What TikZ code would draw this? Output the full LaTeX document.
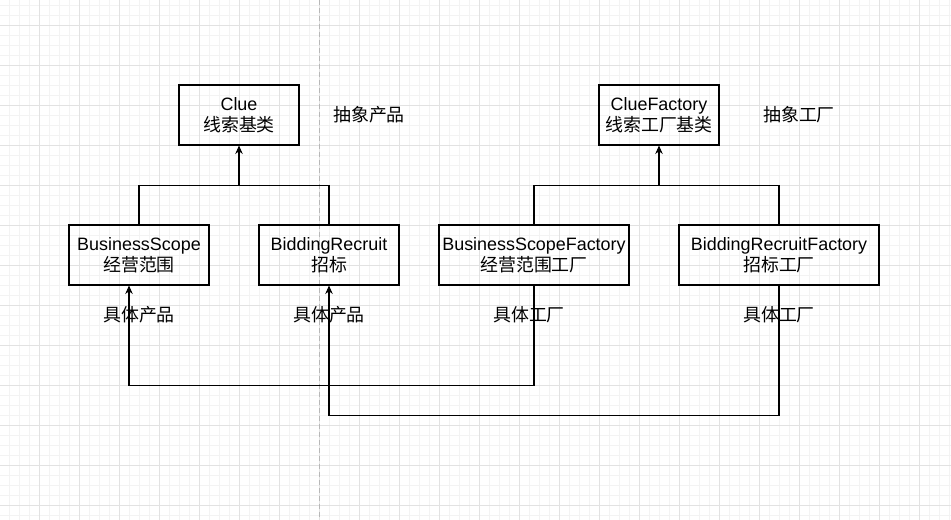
\documentclass[tikz,border=0pt]{standalone}
\usepackage{fontspec}
\setmainfont{Liberation Sans}
\newfontfamily\cjk{Noto Sans CJK SC}
\usetikzlibrary{arrows.meta,positioning}
\definecolor{gridminor}{HTML}{F3F3F3}
\definecolor{gridmajor}{HTML}{E2E2E2}
\definecolor{pagebreak}{HTML}{B8B8B8}

\begin{document}
\begin{tikzpicture}[x=0.02cm,y=-0.02cm,
  font=\fontsize{10.2pt}{12pt}\selectfont,
  box/.style={draw,line width=0.6pt,minimum height=1.2cm,inner sep=0pt,align=center},
  link/.style={line width=0.6pt},
  arr/.style={link,-{Stealth[length=0.17cm,width=0.15cm]}},
  note/.style={font=\fontsize{10.2pt}{12pt}\cjk}]
\useasboundingbox (0,0) rectangle (951,520);
% background grid
\foreach \x in {9.5,19.5,...,949.5} \draw[gridminor,line width=0.4pt] (\x,0) -- (\x,520);
\foreach \y in {5,15,...,515} \draw[gridminor,line width=0.4pt] (0,\y) -- (951,\y);
\foreach \x in {39.5,79.5,...,919.5} \draw[gridmajor,line width=0.4pt] (\x,0) -- (\x,520);
\foreach \y in {25,65,...,505} \draw[gridmajor,line width=0.4pt] (0,\y) -- (951,\y);
\draw[pagebreak,line width=0.5pt,dash pattern=on 0.1cm off 0.06cm] (319.5,0) -- (319.5,520);

% products
\node[box,minimum width=2.4cm] (clue) at (239,115) {Clue\\{\cjk 线索基类}};
\node[box,minimum width=2.8cm] (bs) at (139,255) {BusinessScope\\{\cjk 经营范围}};
\node[box,minimum width=2.8cm] (br) at (329,255) {BiddingRecruit\\{\cjk 招标}};
\node[note] (absprod) at (369,115) {抽象产品};
\node[note] (prod1) at (139,315) {具体产品};
\node[note] (prod2) at (329,315) {具体产品};

% factories
\node[box,minimum width=2.4cm] (cf) at (659,115) {ClueFactory\\{\cjk 线索工厂基类}};
\node[box,minimum width=3.8cm] (bsf) at (534,255) {BusinessScopeFactory\\{\cjk 经营范围工厂}};
\node[box,minimum width=4cm] (brf) at (779,255) {BiddingRecruitFactory\\{\cjk 招标工厂}};
\node[note] (absfac) at (799,115) {抽象工厂};
\node[note] (fac1) at (529,315) {具体工厂};
\node[note] (fac2) at (779,315) {具体工厂};

% inheritance
\coordinate[below=0.8cm of clue.south] (cj);
\coordinate[below=0.8cm of cf.south] (fj);
\draw[link] (bs.north) |- (cj) -| (br.north);
\draw[arr] (cj) -- (clue.south);
\draw[link] (bsf.north) |- (fj) -| (brf.north);
\draw[arr] (fj) -- (cf.south);

% factory creates product
\draw[arr] (bsf.south) -- ++(0,100) -| ([xshift=-0.2cm]bs.south);
\draw[arr] (brf.south) -- ++(0,130) -| (br.south);
\end{tikzpicture}
\end{document}
